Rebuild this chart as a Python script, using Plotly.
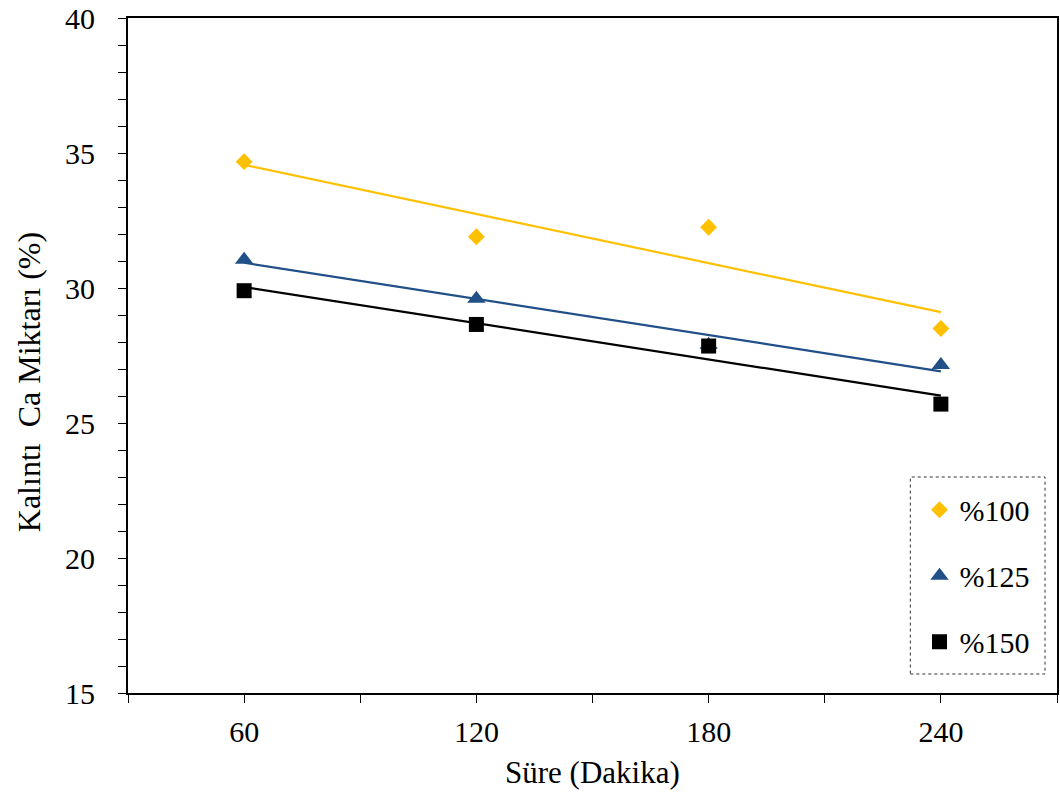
import numpy as np
import plotly.graph_objects as go

# ---- data ----
time_min = [60, 120, 180, 240]
series_names = ["%100", "%125", "%150"]
ca_100 = [34.68, 31.90, 32.25, 28.50]
ca_125 = [31.05, 29.60, 27.90, 27.15]
ca_150 = [29.90, 28.65, 27.85, 25.70]

x_ticks = [60, 120, 180, 240]
y_ticks = [15, 20, 25, 30, 35, 40]

colors = ["#FFC000", "#214F87", "#000000"]
symbols = ["diamond", "triangle-up", "square"]
sizes = [13, 16, 15]
FONT = "Liberation Serif, Times New Roman, serif"

fig = go.Figure()
all_series = [ca_100, ca_125, ca_150]

# trend lines (linear least-squares fit of each series, like Excel's trendline)
for name, ys, col in zip(series_names, all_series, colors):
    k, b = np.polyfit(time_min, ys, 1)
    xs = [time_min[0], time_min[-1]]
    fig.add_trace(go.Scatter(x=xs, y=[k * v + b for v in xs], mode="lines",
                             line=dict(color=col, width=2.2), showlegend=False,
                             hoverinfo="skip", legendgroup=name))

for name, ys, col, sym, sz in zip(series_names, all_series, colors, symbols, sizes):
    fig.add_trace(go.Scatter(x=time_min, y=ys, mode="markers", name=name,
                             legendgroup=name,
                             marker=dict(symbol=sym, size=sz, color=col,
                                         line=dict(width=0))))

fig.update_layout(
    width=1060, height=794,
    margin=dict(l=128, r=1, t=18, b=101),
    paper_bgcolor="white", plot_bgcolor="white",
    font=dict(family=FONT, size=30, color="#000000"),
    showlegend=True,
    legend=dict(x=0.852, y=0.31, xanchor="left", yanchor="top",
                bgcolor="rgba(0,0,0,0)", borderwidth=0,
                font=dict(family=FONT, size=30), tracegroupgap=24,
                itemsizing="trace"),
    xaxis=dict(range=[30, 270], tickvals=x_ticks, ticks="outside", ticklen=8,
               tickwidth=1, tickcolor="#000", showline=True, linecolor="#000",
               linewidth=2, mirror=True, showgrid=False, zeroline=False,
               minor=dict(dtick=30, tick0=30, ticks="outside", ticklen=8,
                          tickwidth=1, tickcolor="#000", showgrid=False),
               ticklabelstandoff=3,
               tickfont=dict(family=FONT, size=30)),
    yaxis=dict(range=[15, 40], tickvals=y_ticks, ticks="outside", ticklen=8,
               tickwidth=1, tickcolor="#000", showline=True, linecolor="#000",
               linewidth=2, mirror=True, showgrid=False, zeroline=False,
               minor=dict(dtick=1, tick0=15, ticks="outside", ticklen=8,
                          tickwidth=1, tickcolor="#000", showgrid=False),
               ticklabelstandoff=17,
               tickfont=dict(family=FONT, size=30)),
)

# dotted legend frame
fig.add_shape(type="rect", xref="paper", yref="paper",
              x0=(912 - 128) / 931, x1=(1047 - 128) / 931,
              y0=(693 - 674) / 675, y1=(693 - 477) / 675,
              line=dict(color="#333", width=1, dash="dot"))

fig.add_annotation(text="Süre (Dakika)", xref="paper", yref="paper",
                   x=0.5, y=-(772 - 693) / 675, xanchor="center", yanchor="middle",
                   showarrow=False, font=dict(family=FONT, size=31))
fig.add_annotation(text="Kalıntı  Ca Miktarı (%)", xref="paper", yref="paper",
                   x=-(128 - 29) / 931, y=(693 - 382) / 675, xanchor="center",
                   yanchor="middle", textangle=-90, showarrow=False,
                   font=dict(family=FONT, size=32))

fig.write_html("out.html")
